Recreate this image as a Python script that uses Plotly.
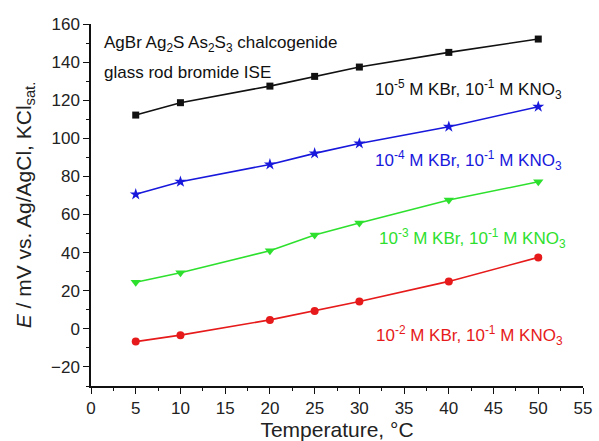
import plotly.graph_objects as go

temps = [5, 10, 20, 25, 30, 40, 50]
e_1e5 = [112.2, 118.7, 127.4, 132.5, 137.4, 145.1, 152.1]
e_1e4 = [70.6, 77.2, 86.3, 92.1, 97.3, 106.1, 116.6]
e_1e3 = [24.5, 29.4, 41.0, 49.2, 55.6, 67.6, 77.2]
e_1e2 = [-6.7, -3.3, 4.7, 9.4, 14.4, 24.9, 37.5]

labels = [
    "10<sup>-5</sup> M KBr, 10<sup>-1</sup> M KNO<sub>3</sub>",
    "10<sup>-4</sup> M KBr, 10<sup>-1</sup> M KNO<sub>3</sub>",
    "10<sup>-3</sup> M KBr, 10<sup>-1</sup> M KNO<sub>3</sub>",
    "10<sup>-2</sup> M KBr, 10<sup>-1</sup> M KNO<sub>3</sub>",
]
colors = ["#111111", "#1818dc", "#2ee02e", "#e61a1a"]
symbols = ["square", "star", "triangle-down", "circle"]
sizes = [7, 9, 9, 8]
series = [e_1e5, e_1e4, e_1e3, e_1e2]
label_pos = [(31.5, 125.5), (31.5, 88.6), (32.0, 47.4), (31.6, -3.5)]

FONT = "Liberation Sans, Arial, sans-serif"

fig = go.Figure()
for ys, c, s, sz, lab in zip(series, colors, symbols, sizes, labels):
    fig.add_trace(go.Scatter(x=temps, y=ys, mode="lines+markers",
                             line=dict(color=c, width=1.6),
                             marker=dict(symbol=s, size=sz, color=c),
                             name=lab, showlegend=False))

for (lx, ly), c, lab in zip(label_pos, colors, labels):
    fig.add_annotation(x=lx, y=ly, xref="x", yref="y", text=lab, showarrow=False,
                       xanchor="left", yanchor="middle",
                       font=dict(family=FONT, size=17, color=c))

fig.add_annotation(x=1.2, y=149.5, xref="x", yref="y",
                   text="AgBr Ag<sub>2</sub>S As<sub>2</sub>S<sub>3</sub> chalcogenide",
                   showarrow=False, xanchor="left", yanchor="middle",
                   font=dict(family=FONT, size=17, color="#111111"))
fig.add_annotation(x=1.2, y=134.8, xref="x", yref="y",
                   text="glass rod bromide ISE",
                   showarrow=False, xanchor="left", yanchor="middle",
                   font=dict(family=FONT, size=17, color="#111111"))

axis_common = dict(showline=True, linecolor="#111111", linewidth=1.5,
                   ticks="outside", ticklen=6, tickwidth=1.2, tickcolor="#111111",
                   showgrid=False, zeroline=False, mirror=False, automargin=False,
                   tickfont=dict(family=FONT, size=17, color="#222222"))

fig.update_xaxes(range=[0, 55], tick0=0, dtick=5,
                 minor=dict(ticks="outside", ticklen=3, tickwidth=1.2, tickcolor="#111111", dtick=2.5),
                 title=dict(text="Temperature, °C", font=dict(family=FONT, size=21, color="#222222"), standoff=2),
                 **axis_common)
fig.update_yaxes(range=[-30, 160], tick0=0, dtick=20,
                 minor=dict(ticks="outside", ticklen=3, tickwidth=1.2, tickcolor="#111111", dtick=10),
                 title=dict(text="<i>E</i> / mV vs. Ag/AgCl, KCl<sub>sat.</sub>",
                            font=dict(family=FONT, size=21, color="#222222"), standoff=14),
                 **axis_common)

fig.update_layout(width=599, height=441, margin=dict(l=91, r=16, t=24, b=55),
                  paper_bgcolor="white", plot_bgcolor="white",
                  font=dict(family=FONT))

fig.write_html("out.html")
